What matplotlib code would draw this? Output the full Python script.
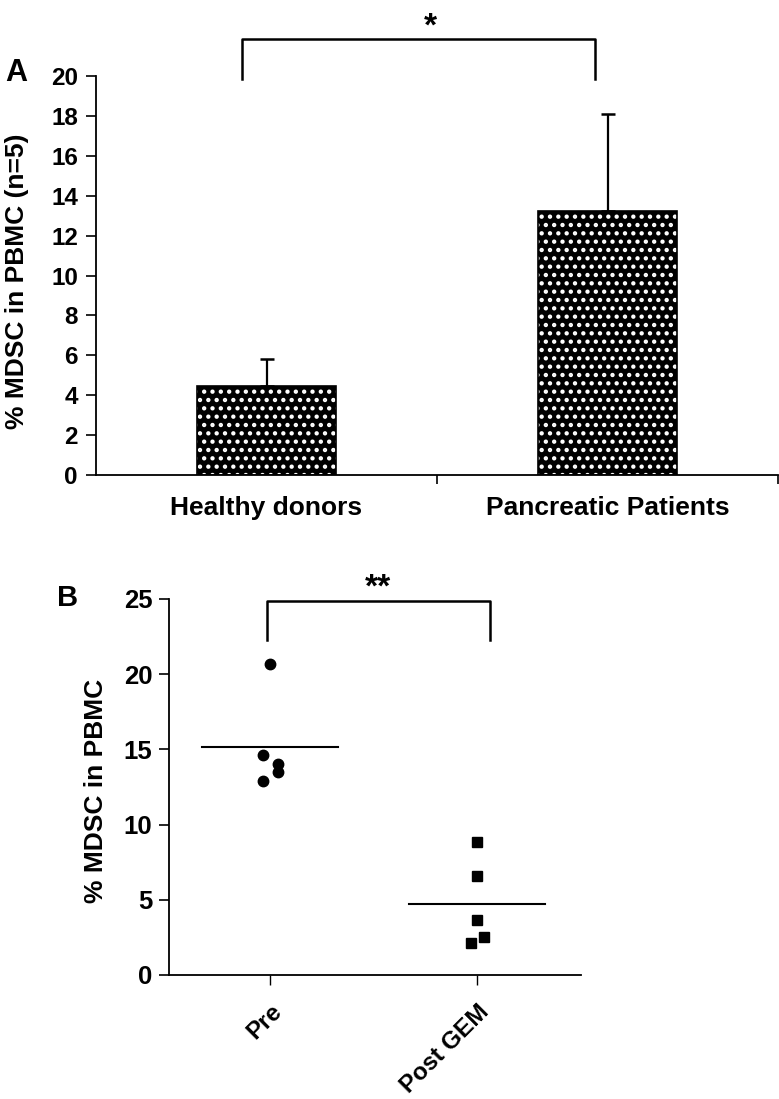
import matplotlib
matplotlib.use("Agg")
import matplotlib.pyplot as plt
from matplotlib.ticker import FixedLocator

plt.rcParams['font.family'] = ['Liberation Sans', 'DejaVu Sans']
plt.rcParams['font.weight'] = 'bold'
plt.rcParams['hatch.linewidth'] = 1.9

# ---------------- data ----------------
# panel A
groups_a = ["Healthy donors", "Pancreatic Patients"]
means_a = [4.47, 13.23]
sd_a = [1.33, 4.85]

# panel B
groups_b = ["Pre", "Post GEM"]
pre_vals = [20.7, 14.6, 14.0, 13.5, 12.9]
pre_offsets = [0.0, -0.033, 0.037, 0.037, -0.033]
post_vals = [8.86, 6.57, 3.66, 2.52, 2.1]
post_offsets = [0.0, 0.0, 0.0, 0.033, -0.03]
pre_mean = sum(pre_vals) / len(pre_vals)
post_mean = sum(post_vals) / len(post_vals)

W, H = 779, 1099
fig = plt.figure(figsize=(W / 100, H / 100), dpi=100)

#------------------------------------------------------
# Panel A - bars
#------------------------------------------------------
axA = fig.add_axes([96 / W, 1 - 475 / H, 682 / W, 399 / H])
xa = [0, 1]
axA.bar(xa, means_a, width=0.405, color='black', edgecolor='white', hatch='..', linewidth=0)
axA.bar(xa, means_a, width=0.405, fill=False, edgecolor='black', linewidth=1.2)
axA.errorbar(xa, means_a, yerr=[[0, 0], sd_a], fmt='none', ecolor='black',
             elinewidth=1.6, capsize=5, capthick=1.8)
axA.set_xlim(-0.5, 1.5)
axA.set_ylim(0, 20)
axA.set_yticks(range(0, 21, 2))
axA.set_xticks(xa)
axA.set_xticklabels(groups_a, fontsize=19, fontweight='bold')
axA.xaxis.set_minor_locator(FixedLocator([0.5, 1.5]))
axA.tick_params(axis='x', which='major', length=0, pad=15)
axA.tick_params(axis='x', which='minor', length=6.5, width=1.2, direction='out')
axA.tick_params(axis='y', length=7, width=1.2, pad=6)
for lab in axA.get_yticklabels():
    lab.set_fontweight('bold')
    lab.set_fontsize(17.5)
for s in ['top', 'right']:
    axA.spines[s].set_visible(False)
for s in ['left', 'bottom']:
    axA.spines[s].set_linewidth(1.3)
axA.set_ylabel("% MDSC in PBMC (n=5)", fontsize=19, fontweight='bold')
axA.yaxis.set_label_coords(-0.098, 0.485)

# significance bracket
axA.plot([-0.072, -0.072, 0.963, 0.963], [19.85, 21.85, 21.85, 19.85],
         color='black', linewidth=1.8, clip_on=False)
axA.text(0.482, 22.45, "*", fontsize=24, fontweight='bold', ha='center', va='center')
fig.text(16 / W, 1 - 73 / H, "A", fontsize=22, fontweight='bold', ha='center', va='center')

#------------------------------------------------------
# Panel B - scatter with means
#------------------------------------------------------
axB = fig.add_axes([169 / W, 1 - 975 / H, 412 / W, 376 / H])
axB.plot([0 + o for o in pre_offsets], pre_vals, 'o', color='black', markersize=7.5)
axB.plot([1 + o for o in post_offsets], post_vals, 's', color='black', markersize=7)
axB.plot([-0.33, 0.33], [pre_mean, pre_mean], color='black', linewidth=1.5)
axB.plot([0.67, 1.33], [post_mean, post_mean], color='black', linewidth=1.5)
axB.set_xlim(-0.49, 1.504)
axB.set_ylim(0, 25)
axB.set_yticks(range(0, 26, 5))
axB.set_xticks([0, 1])
axB.set_xticklabels(groups_b, fontsize=17.5, fontweight='bold', rotation=45,
                    ha='right', va='top', rotation_mode='anchor')
axB.tick_params(axis='x', length=7, width=1.0, pad=11)
axB.tick_params(axis='y', length=7, width=1.2, pad=5)
for lab in axB.get_yticklabels():
    lab.set_fontweight('bold')
    lab.set_fontsize(18.5)
for s in ['top', 'right']:
    axB.spines[s].set_visible(False)
for s in ['left', 'bottom']:
    axB.spines[s].set_linewidth(1.3)
axB.set_ylabel("% MDSC in PBMC", fontsize=19, fontweight='bold')
axB.yaxis.set_label_coords(-0.148, 0.49)

axB.plot([-0.015, -0.015, 1.065, 1.065], [22.3, 24.9, 24.9, 22.3],
         color='black', linewidth=1.8, clip_on=False)
axB.text(0.52, 25.75, "**", fontsize=24, fontweight='bold', ha='center', va='center')
fig.text(68 / W, 1 - 598 / H, "B", fontsize=21, fontweight='bold', ha='center', va='center')

fig.savefig("out.png", dpi=100)
